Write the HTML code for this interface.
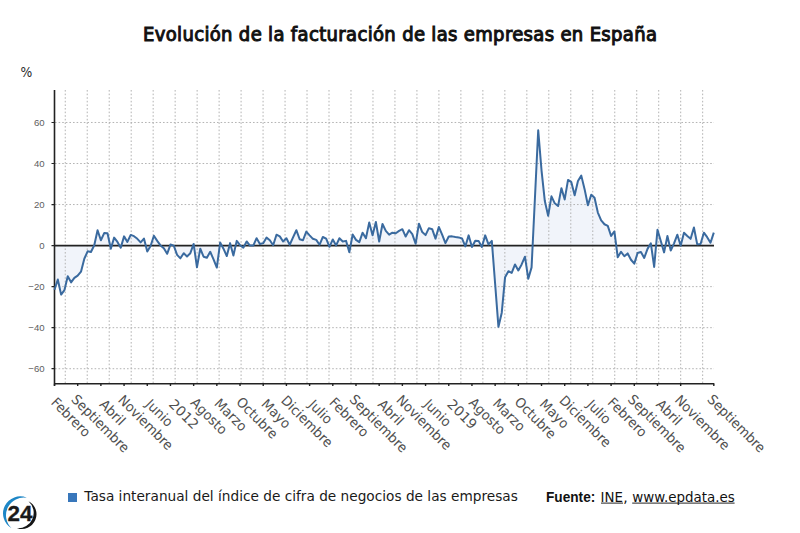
<!DOCTYPE html><html><head><meta charset="utf-8"><title>Evolución de la facturación de las empresas en España</title>
<style>html,body{margin:0;padding:0;background:#fff;}body{width:800px;height:533px;overflow:hidden;}svg{display:block;}.t{font-family:"DejaVu Sans","Liberation Sans",sans-serif;}</style></head><body>
<svg width="800" height="533" viewBox="0 0 800 533">
<rect width="800" height="533" fill="#fff"/>
<text x="400" y="41" text-anchor="middle" font-size="20" fill="#111" stroke="#111" stroke-width="1" textLength="514" lengthAdjust="spacing" style="font-family:'DejaVu Sans Condensed','DejaVu Sans',sans-serif;font-stretch:condensed">Evolución de la facturación de las empresas en España</text>
<text class="t" x="0" y="0" font-size="12.4" fill="#2a2a2a" transform="translate(20.4 76.8) scale(1 1.16)">%</text>
<path d="M54.50 245.60 L54.50 289.72 L57.81 279.46 L61.13 294.64 L64.44 290.13 L67.75 276.17 L71.07 282.33 L74.38 277.82 L77.69 275.56 L81.00 271.66 L84.32 258.73 L87.63 251.35 L90.94 251.96 L94.26 245.19 L97.57 230.21 L100.88 240.26 L104.20 233.08 L107.51 233.29 L110.82 248.68 L114.14 237.60 L117.45 241.91 L120.76 247.65 L124.07 236.37 L127.39 241.91 L130.70 234.93 L134.01 236.16 L137.33 238.83 L140.64 242.32 L143.95 238.62 L147.27 251.55 L150.58 246.01 L153.89 235.75 L157.21 240.88 L160.52 245.39 L163.83 248.27 L167.14 253.81 L170.46 244.57 L173.77 245.60 L177.08 254.83 L180.40 258.32 L183.71 253.19 L187.02 256.48 L190.34 253.19 L193.65 243.96 L196.96 267.35 L200.27 248.68 L203.59 256.68 L206.90 257.71 L210.21 251.76 L213.53 259.35 L216.84 267.56 L220.15 242.52 L223.47 248.68 L226.78 256.07 L230.09 243.14 L233.41 255.45 L236.72 240.88 L240.03 245.19 L243.34 247.65 L246.66 241.50 L249.97 245.60 L253.28 245.60 L256.60 238.21 L259.91 243.96 L263.22 243.14 L266.54 237.60 L269.85 240.26 L273.16 245.19 L276.48 234.72 L279.79 236.37 L283.10 241.50 L286.41 238.21 L289.73 244.78 L293.04 237.39 L296.35 230.21 L299.67 239.24 L302.98 240.26 L306.29 231.65 L309.61 235.34 L312.92 238.83 L316.23 239.85 L319.55 244.78 L322.86 236.98 L326.17 238.62 L329.48 246.83 L332.80 239.44 L336.11 245.39 L339.42 238.21 L342.74 241.50 L346.05 240.88 L349.36 252.17 L352.68 234.52 L355.99 239.85 L359.30 242.11 L362.62 232.67 L365.93 238.21 L369.24 222.41 L372.55 235.34 L375.87 222.00 L379.18 241.50 L382.49 224.05 L385.81 230.83 L389.12 234.72 L392.43 232.67 L395.75 233.29 L399.06 230.83 L402.37 229.18 L405.68 236.57 L409.00 230.21 L412.31 234.11 L415.62 243.75 L418.94 223.64 L422.25 232.06 L425.56 235.13 L428.88 228.16 L432.19 229.18 L435.50 238.62 L438.82 226.93 L442.13 234.72 L445.44 243.14 L448.75 236.57 L452.07 236.37 L455.38 236.98 L458.69 237.39 L462.01 238.42 L465.32 246.42 L468.63 235.34 L471.95 247.04 L475.26 240.68 L478.57 240.88 L481.89 247.04 L485.20 235.34 L488.51 244.37 L491.82 240.88 L495.14 283.97 L498.45 326.86 L501.76 312.70 L505.08 277.20 L508.39 271.25 L511.70 272.89 L515.02 264.48 L518.33 270.43 L521.64 264.48 L524.96 256.68 L528.27 278.84 L531.58 267.35 L534.89 199.02 L538.21 130.28 L541.52 170.29 L544.83 201.07 L548.15 215.85 L551.46 196.35 L554.77 203.33 L558.09 206.00 L561.40 188.14 L564.71 199.43 L568.03 179.94 L571.34 182.19 L574.65 195.33 L577.96 180.96 L581.28 175.63 L584.59 189.17 L587.90 205.18 L591.22 194.71 L594.53 197.79 L597.84 212.56 L601.16 220.36 L604.47 224.26 L607.78 225.90 L611.09 235.96 L614.41 231.44 L617.72 257.30 L621.03 251.76 L624.35 256.27 L627.66 253.40 L630.97 259.76 L634.29 263.66 L637.60 252.99 L640.91 251.96 L644.23 257.91 L647.54 248.88 L650.85 243.34 L654.16 266.94 L657.48 229.80 L660.79 241.09 L664.10 252.37 L667.42 235.96 L670.73 250.52 L674.04 243.34 L677.36 234.72 L680.67 245.81 L683.98 232.67 L687.30 235.96 L690.61 238.83 L693.92 227.54 L697.23 244.37 L700.55 243.96 L703.86 232.67 L707.17 237.19 L710.49 242.73 L713.80 232.67 L713.80 245.60Z" fill="#f1f4fa"/>
<path d="M65.25 90V383 M87.23 90V383 M109.21 90V383 M131.19 90V383 M153.17 90V383 M175.15 90V383 M197.13 90V383 M219.11 90V383 M241.09 90V383 M263.07 90V383 M285.05 90V383 M307.03 90V383 M329.01 90V383 M350.99 90V383 M372.97 90V383 M394.95 90V383 M416.93 90V383 M438.91 90V383 M460.89 90V383 M482.87 90V383 M504.85 90V383 M526.83 90V383 M548.81 90V383 M570.79 90V383 M592.77 90V383 M614.75 90V383 M636.73 90V383 M658.71 90V383 M680.69 90V383 M702.67 90V383 M55 122.48H714 M55 163.52H714 M55 204.56H714 M55 286.64H714 M55 327.68H714 M55 368.72H714" stroke="#b3b3b3" stroke-width="1" stroke-dasharray="1.6 2" fill="none"/>
<path d="M54.5 90V385.8 M54.5 383.7H714.3" stroke="#222" stroke-width="1.6" fill="none"/>
<path d="M54.5 245.6H714" stroke="#222" stroke-width="1.6" fill="none"/>
<path d="M51.5 122.48H54.5 M51.5 163.52H54.5 M51.5 204.56H54.5 M51.5 245.60H54.5 M51.5 286.64H54.5 M51.5 327.68H54.5 M51.5 368.72H54.5" stroke="#222" stroke-width="1.2" fill="none"/>
<text class="t" x="44.6" y="125.83" text-anchor="end" font-size="9.6" fill="#606060" style="font-family:'Liberation Sans',sans-serif">60</text>
<text class="t" x="44.6" y="166.87" text-anchor="end" font-size="9.6" fill="#606060" style="font-family:'Liberation Sans',sans-serif">40</text>
<text class="t" x="44.6" y="207.91" text-anchor="end" font-size="9.6" fill="#606060" style="font-family:'Liberation Sans',sans-serif">20</text>
<text class="t" x="44.6" y="248.95" text-anchor="end" font-size="9.6" fill="#606060" style="font-family:'Liberation Sans',sans-serif">0</text>
<text class="t" x="44.6" y="289.99" text-anchor="end" font-size="9.6" fill="#606060" style="font-family:'Liberation Sans',sans-serif">−20</text>
<text class="t" x="44.6" y="331.03" text-anchor="end" font-size="9.6" fill="#606060" style="font-family:'Liberation Sans',sans-serif">−40</text>
<text class="t" x="44.6" y="372.07" text-anchor="end" font-size="9.6" fill="#606060" style="font-family:'Liberation Sans',sans-serif">−60</text>
<path d="M54.50 383.7V386 M77.69 383.7V386 M100.88 383.7V386 M124.07 383.7V386 M147.27 383.7V386 M170.46 383.7V386 M193.65 383.7V386 M216.84 383.7V386 M240.03 383.7V386 M263.22 383.7V386 M286.41 383.7V386 M309.61 383.7V386 M332.80 383.7V386 M355.99 383.7V386 M379.18 383.7V386 M402.37 383.7V386 M425.56 383.7V386 M448.75 383.7V386 M471.95 383.7V386 M495.14 383.7V386 M518.33 383.7V386 M541.52 383.7V386 M564.71 383.7V386 M587.90 383.7V386 M611.09 383.7V386 M634.29 383.7V386 M657.48 383.7V386 M680.67 383.7V386 M713.80 383.7V386" stroke="#222" stroke-width="1.4" fill="none"/>
<text class="t" x="0" y="0" font-size="13.6" fill="#505050" textLength="49.1" lengthAdjust="spacingAndGlyphs" transform="translate(50.17 403.15) rotate(45)">Febrero</text>
<text class="t" x="0" y="0" font-size="13.6" fill="#505050" textLength="75.2" lengthAdjust="spacingAndGlyphs" transform="translate(70.47 400.26) rotate(45)">Septiembre</text>
<text class="t" x="0" y="0" font-size="13.6" fill="#505050" textLength="29.7" lengthAdjust="spacingAndGlyphs" transform="translate(98.70 405.29) rotate(45)">Abril</text>
<text class="t" x="0" y="0" font-size="13.6" fill="#505050" textLength="71.0" lengthAdjust="spacingAndGlyphs" transform="translate(117.33 400.73) rotate(45)">Noviembre</text>
<text class="t" x="0" y="0" font-size="13.6" fill="#505050" textLength="31.9" lengthAdjust="spacingAndGlyphs" transform="translate(144.84 405.05) rotate(45)">Junio</text>
<text class="t" x="0" y="0" font-size="13.6" fill="#505050" textLength="35.7" lengthAdjust="spacingAndGlyphs" transform="translate(167.90 404.92) rotate(45)">2012</text>
<text class="t" x="0" y="0" font-size="13.6" fill="#505050" textLength="44.9" lengthAdjust="spacingAndGlyphs" transform="translate(189.78 403.61) rotate(45)">Agosto</text>
<text class="t" x="0" y="0" font-size="13.6" fill="#505050" textLength="39.3" lengthAdjust="spacingAndGlyphs" transform="translate(213.59 404.23) rotate(45)">Marzo</text>
<text class="t" x="0" y="0" font-size="13.6" fill="#505050" textLength="52.0" lengthAdjust="spacingAndGlyphs" transform="translate(235.38 402.82) rotate(45)">Octubre</text>
<text class="t" x="0" y="0" font-size="13.6" fill="#505050" textLength="34.8" lengthAdjust="spacingAndGlyphs" transform="translate(260.47 404.72) rotate(45)">Mayo</text>
<text class="t" x="0" y="0" font-size="13.6" fill="#505050" textLength="66.4" lengthAdjust="spacingAndGlyphs" transform="translate(280.17 401.24) rotate(45)">Diciembre</text>
<text class="t" x="0" y="0" font-size="13.6" fill="#505050" textLength="27.3" lengthAdjust="spacingAndGlyphs" transform="translate(307.69 405.56) rotate(45)">Julio</text>
<text class="t" x="0" y="0" font-size="13.6" fill="#505050" textLength="49.1" lengthAdjust="spacingAndGlyphs" transform="translate(328.47 403.15) rotate(45)">Febrero</text>
<text class="t" x="0" y="0" font-size="13.6" fill="#505050" textLength="75.2" lengthAdjust="spacingAndGlyphs" transform="translate(348.77 400.26) rotate(45)">Septiembre</text>
<text class="t" x="0" y="0" font-size="13.6" fill="#505050" textLength="29.7" lengthAdjust="spacingAndGlyphs" transform="translate(377.00 405.29) rotate(45)">Abril</text>
<text class="t" x="0" y="0" font-size="13.6" fill="#505050" textLength="71.0" lengthAdjust="spacingAndGlyphs" transform="translate(395.62 400.73) rotate(45)">Noviembre</text>
<text class="t" x="0" y="0" font-size="13.6" fill="#505050" textLength="31.9" lengthAdjust="spacingAndGlyphs" transform="translate(423.14 405.05) rotate(45)">Junio</text>
<text class="t" x="0" y="0" font-size="13.6" fill="#505050" textLength="35.7" lengthAdjust="spacingAndGlyphs" transform="translate(446.20 404.92) rotate(45)">2019</text>
<text class="t" x="0" y="0" font-size="13.6" fill="#505050" textLength="44.9" lengthAdjust="spacingAndGlyphs" transform="translate(468.08 403.61) rotate(45)">Agosto</text>
<text class="t" x="0" y="0" font-size="13.6" fill="#505050" textLength="39.3" lengthAdjust="spacingAndGlyphs" transform="translate(491.89 404.23) rotate(45)">Marzo</text>
<text class="t" x="0" y="0" font-size="13.6" fill="#505050" textLength="52.0" lengthAdjust="spacingAndGlyphs" transform="translate(513.68 402.82) rotate(45)">Octubre</text>
<text class="t" x="0" y="0" font-size="13.6" fill="#505050" textLength="34.8" lengthAdjust="spacingAndGlyphs" transform="translate(538.77 404.72) rotate(45)">Mayo</text>
<text class="t" x="0" y="0" font-size="13.6" fill="#505050" textLength="66.4" lengthAdjust="spacingAndGlyphs" transform="translate(558.47 401.24) rotate(45)">Diciembre</text>
<text class="t" x="0" y="0" font-size="13.6" fill="#505050" textLength="27.3" lengthAdjust="spacingAndGlyphs" transform="translate(585.99 405.56) rotate(45)">Julio</text>
<text class="t" x="0" y="0" font-size="13.6" fill="#505050" textLength="49.1" lengthAdjust="spacingAndGlyphs" transform="translate(606.77 403.15) rotate(45)">Febrero</text>
<text class="t" x="0" y="0" font-size="13.6" fill="#505050" textLength="75.2" lengthAdjust="spacingAndGlyphs" transform="translate(627.07 400.26) rotate(45)">Septiembre</text>
<text class="t" x="0" y="0" font-size="13.6" fill="#505050" textLength="29.7" lengthAdjust="spacingAndGlyphs" transform="translate(655.29 405.29) rotate(45)">Abril</text>
<text class="t" x="0" y="0" font-size="13.6" fill="#505050" textLength="71.0" lengthAdjust="spacingAndGlyphs" transform="translate(673.92 400.73) rotate(45)">Noviembre</text>
<text class="t" x="0" y="0" font-size="13.6" fill="#505050" textLength="75.2" lengthAdjust="spacingAndGlyphs" transform="translate(706.58 400.26) rotate(45)">Septiembre</text>
<path d="M54.50 289.72 L57.81 279.46 L61.13 294.64 L64.44 290.13 L67.75 276.17 L71.07 282.33 L74.38 277.82 L77.69 275.56 L81.00 271.66 L84.32 258.73 L87.63 251.35 L90.94 251.96 L94.26 245.19 L97.57 230.21 L100.88 240.26 L104.20 233.08 L107.51 233.29 L110.82 248.68 L114.14 237.60 L117.45 241.91 L120.76 247.65 L124.07 236.37 L127.39 241.91 L130.70 234.93 L134.01 236.16 L137.33 238.83 L140.64 242.32 L143.95 238.62 L147.27 251.55 L150.58 246.01 L153.89 235.75 L157.21 240.88 L160.52 245.39 L163.83 248.27 L167.14 253.81 L170.46 244.57 L173.77 245.60 L177.08 254.83 L180.40 258.32 L183.71 253.19 L187.02 256.48 L190.34 253.19 L193.65 243.96 L196.96 267.35 L200.27 248.68 L203.59 256.68 L206.90 257.71 L210.21 251.76 L213.53 259.35 L216.84 267.56 L220.15 242.52 L223.47 248.68 L226.78 256.07 L230.09 243.14 L233.41 255.45 L236.72 240.88 L240.03 245.19 L243.34 247.65 L246.66 241.50 L249.97 245.60 L253.28 245.60 L256.60 238.21 L259.91 243.96 L263.22 243.14 L266.54 237.60 L269.85 240.26 L273.16 245.19 L276.48 234.72 L279.79 236.37 L283.10 241.50 L286.41 238.21 L289.73 244.78 L293.04 237.39 L296.35 230.21 L299.67 239.24 L302.98 240.26 L306.29 231.65 L309.61 235.34 L312.92 238.83 L316.23 239.85 L319.55 244.78 L322.86 236.98 L326.17 238.62 L329.48 246.83 L332.80 239.44 L336.11 245.39 L339.42 238.21 L342.74 241.50 L346.05 240.88 L349.36 252.17 L352.68 234.52 L355.99 239.85 L359.30 242.11 L362.62 232.67 L365.93 238.21 L369.24 222.41 L372.55 235.34 L375.87 222.00 L379.18 241.50 L382.49 224.05 L385.81 230.83 L389.12 234.72 L392.43 232.67 L395.75 233.29 L399.06 230.83 L402.37 229.18 L405.68 236.57 L409.00 230.21 L412.31 234.11 L415.62 243.75 L418.94 223.64 L422.25 232.06 L425.56 235.13 L428.88 228.16 L432.19 229.18 L435.50 238.62 L438.82 226.93 L442.13 234.72 L445.44 243.14 L448.75 236.57 L452.07 236.37 L455.38 236.98 L458.69 237.39 L462.01 238.42 L465.32 246.42 L468.63 235.34 L471.95 247.04 L475.26 240.68 L478.57 240.88 L481.89 247.04 L485.20 235.34 L488.51 244.37 L491.82 240.88 L495.14 283.97 L498.45 326.86 L501.76 312.70 L505.08 277.20 L508.39 271.25 L511.70 272.89 L515.02 264.48 L518.33 270.43 L521.64 264.48 L524.96 256.68 L528.27 278.84 L531.58 267.35 L534.89 199.02 L538.21 130.28 L541.52 170.29 L544.83 201.07 L548.15 215.85 L551.46 196.35 L554.77 203.33 L558.09 206.00 L561.40 188.14 L564.71 199.43 L568.03 179.94 L571.34 182.19 L574.65 195.33 L577.96 180.96 L581.28 175.63 L584.59 189.17 L587.90 205.18 L591.22 194.71 L594.53 197.79 L597.84 212.56 L601.16 220.36 L604.47 224.26 L607.78 225.90 L611.09 235.96 L614.41 231.44 L617.72 257.30 L621.03 251.76 L624.35 256.27 L627.66 253.40 L630.97 259.76 L634.29 263.66 L637.60 252.99 L640.91 251.96 L644.23 257.91 L647.54 248.88 L650.85 243.34 L654.16 266.94 L657.48 229.80 L660.79 241.09 L664.10 252.37 L667.42 235.96 L670.73 250.52 L674.04 243.34 L677.36 234.72 L680.67 245.81 L683.98 232.67 L687.30 235.96 L690.61 238.83 L693.92 227.54 L697.23 244.37 L700.55 243.96 L703.86 232.67 L707.17 237.19 L710.49 242.73 L713.80 232.67" stroke="#3a6a9f" stroke-width="2" fill="none" stroke-linejoin="round"/>
<rect x="68" y="493" width="9" height="9" fill="#3877bb"/>
<text class="t" x="84.3" y="500.8" font-size="14" fill="#1a1a1a" textLength="433.5" lengthAdjust="spacingAndGlyphs">Tasa interanual del índice de cifra de negocios de las empresas</text>
<text x="546" y="501.6" font-size="14" font-weight="bold" fill="#111" textLength="49.3" lengthAdjust="spacingAndGlyphs" style="font-family:'Liberation Sans',sans-serif">Fuente:</text>
<text class="t" x="600.6" y="501.6" font-size="14" fill="#111" textLength="22.4" lengthAdjust="spacingAndGlyphs">INE</text>
<text class="t" x="623.2" y="501.6" font-size="14" fill="#111">,</text>
<text class="t" x="632.2" y="501.6" font-size="14" fill="#111" textLength="102.6" lengthAdjust="spacingAndGlyphs">www.epdata.es</text>
<path d="M601 503.1H623M632.2 503.1H734.6" stroke="#222" stroke-width="1" fill="none"/>
<path d="M26.9 497.8 A17.07 17.07 0 0 0 11.5 528.2 A17.81 17.81 0 0 1 26.9 497.8Z" fill="#1d86c6"/>
<path d="M28.5 501.2 A14.73 14.73 0 0 1 16.9 528.2 A15.49 15.49 0 0 0 28.5 501.2Z" fill="#151515"/>
<text x="7.6" y="521.3" font-size="22.8" font-weight="bold" fill="#1a1a1a" stroke="#1a1a1a" stroke-width="0.3" textLength="25" lengthAdjust="spacingAndGlyphs" style="font-family:'Liberation Sans',sans-serif">24</text>
</svg></body></html>
